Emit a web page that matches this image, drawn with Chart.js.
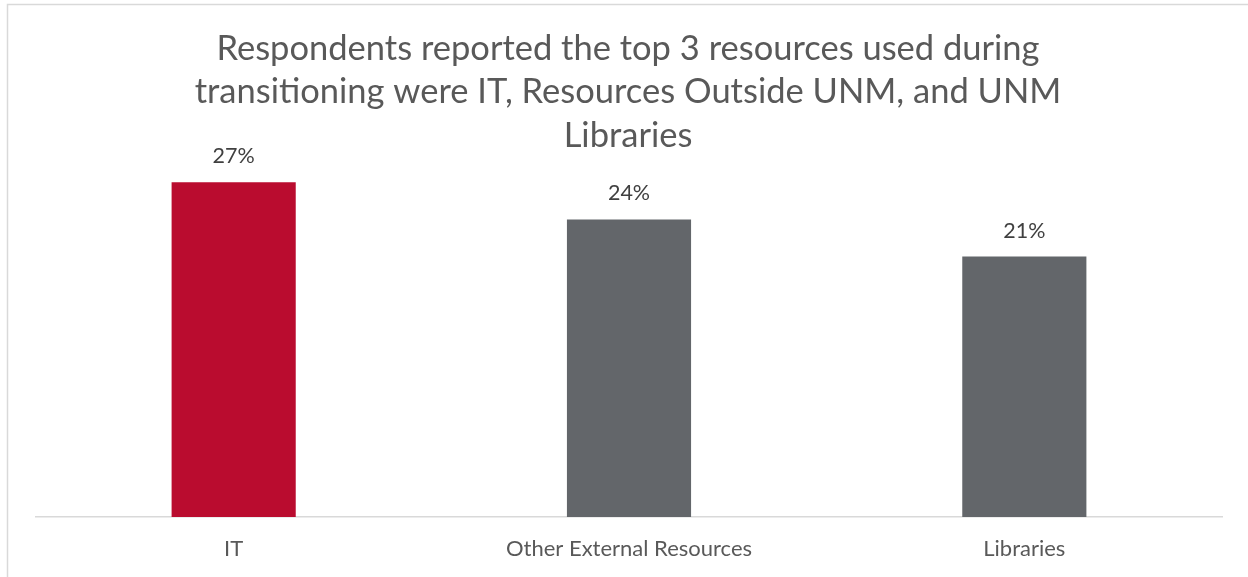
<!DOCTYPE html>
<html>
<head>
<meta charset="utf-8">
<script src="https://cdn.jsdelivr.net/npm/chart.js@4"></script>
<style>
  html, body { margin: 0; padding: 0; background: #ffffff; overflow: hidden; }
  #wrap { position: relative; width: 1248px; height: 577px; }
  canvas { display: block; }
</style>
</head>
<body>
<div id="wrap"><canvas id="chart" width="1248" height="577"></canvas></div>
<script>
// Chart data
const categories = ['IT', 'Other External Resources', 'Libraries'];
const shares = [27, 24, 21];
const barColors = ['#BA0C2F', '#63666A', '#63666A'];
const titleLines = [
  'Respondents reported the top 3 resources used during',
  'transitioning were IT, Resources Outside UNM, and UNM',
  'Libraries'
];

const FONT = 'Lato, "Open Sans", sans-serif';

// Thin frame around the chart object
const framePlugin = {
  id: 'frame',
  beforeDraw(chart) {
    const ctx = chart.ctx;
    ctx.save();
    ctx.fillStyle = '#ffffff';
    ctx.fillRect(0, 0, chart.width, chart.height);
    ctx.strokeStyle = '#d9d9d9';
    ctx.lineWidth = 1.5;
    ctx.beginPath();
    ctx.moveTo(7.5, chart.height + 10);
    ctx.lineTo(7.5, 4.5);
    ctx.lineTo(chart.width + 10, 4.5);
    ctx.stroke();
    ctx.restore();
  }
};

// Three-line centred title, allowed to sit over the top of the plot area
const titlePlugin = {
  id: 'multiTitle',
  afterDraw(chart) {
    const ctx = chart.ctx;
    ctx.save();
    ctx.font = '34.5px ' + FONT;
    ctx.fillStyle = '#595959';
    ctx.textAlign = 'center';
    ctx.textBaseline = 'alphabetic';
    titleLines.forEach((line, i) => {
      ctx.fillText(line, 628, 60 + i * 43.3);
    });
    ctx.restore();
  }
};

// Percentage labels above each bar
const valueLabelPlugin = {
  id: 'valueLabels',
  afterDatasetsDraw(chart) {
    const ctx = chart.ctx;
    const meta = chart.getDatasetMeta(0);
    ctx.save();
    ctx.font = '21.5px ' + FONT;
    ctx.fillStyle = '#404040';
    ctx.textAlign = 'center';
    ctx.textBaseline = 'alphabetic';
    meta.data.forEach((bar, i) => {
      ctx.fillText(shares[i] + '%', bar.x, bar.y - 19);
    });
    ctx.restore();
  }
};

new Chart(document.getElementById('chart'), {
  type: 'bar',
  data: {
    labels: categories,
    datasets: [{
      data: shares,
      backgroundColor: barColors,
      borderWidth: 0,
      categoryPercentage: 1.0,
      barPercentage: 0.314
    }]
  },
  options: {
    responsive: false,
    animation: false,
    devicePixelRatio: 1,
    layout: { padding: { left: 36, right: 26, top: 145, bottom: 0 } },
    plugins: {
      legend: { display: false },
      title: { display: false },
      tooltip: { enabled: false }
    },
    scales: {
      x: {
        grid: { display: false, drawTicks: false },
        border: { display: true, color: '#d9d9d9', width: 1.5 },
        ticks: {
          color: '#595959',
          font: { family: FONT, size: 22 },
          padding: 19,
          maxRotation: 0,
          autoSkip: false
        },
        afterFit(scale) { scale.height = 60; }
      },
      y: {
        display: false,
        min: 0,
        max: 30
      }
    }
  },
  plugins: [framePlugin, titlePlugin, valueLabelPlugin]
});
</script>
</body>
</html>
